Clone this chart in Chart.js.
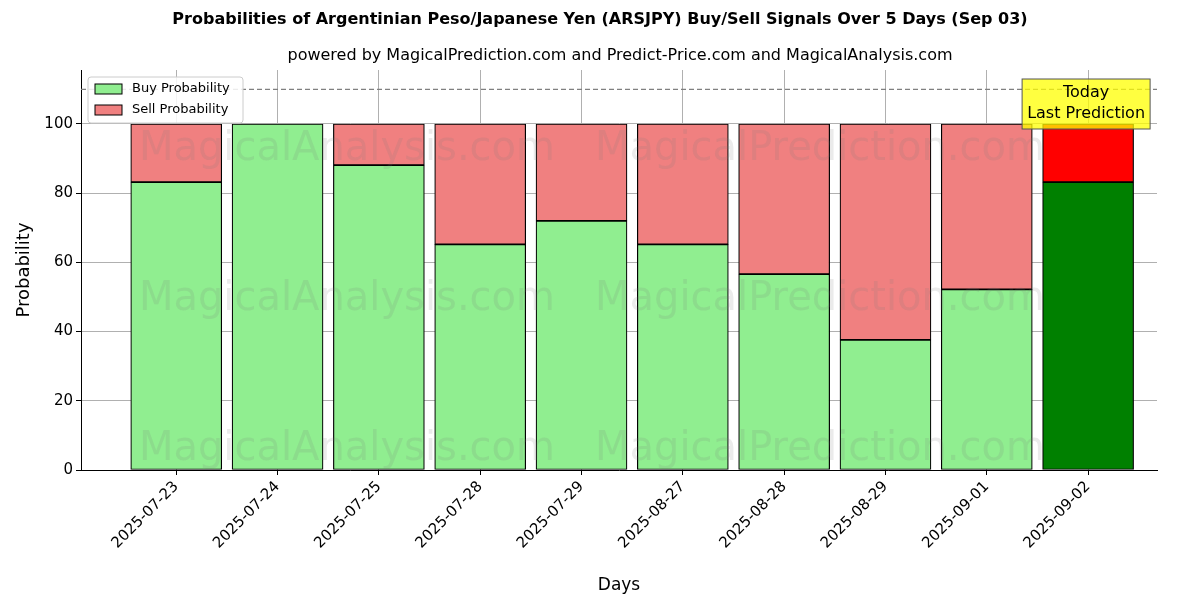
<!DOCTYPE html>
<html>
<head>
<meta charset="utf-8">
<script src="https://cdn.jsdelivr.net/npm/chart.js@4"></script>
<style>
  html, body { margin: 0; padding: 0; background: #fff; }
  #wrap { width: 1200px; height: 600px; }
</style>
</head>
<body>
<div id="wrap"><canvas id="chart" width="1200" height="600"></canvas></div>
<script>
// Data
const days = ['2025-07-23', '2025-07-24', '2025-07-25', '2025-07-28', '2025-07-29',
  '2025-08-27', '2025-08-28', '2025-08-29', '2025-09-01', '2025-09-02'];
const buyProb = [83.2, 100, 88.1, 65.2, 72.0, 65.2, 56.6, 37.6, 52.2, 83.2];
const sellProb = buyProb.map(b => +(100 - b).toFixed(1));
const yTicks = [0, 20, 40, 60, 80, 100];

const FONT = 'DejaVu Sans';
const last = days.length - 1;

const buyColors = days.map((d, i) => i === last ? '#008000' : '#90ee90');
const sellColors = days.map((d, i) => i === last ? '#ff0000' : '#f08080');

// Titles, watermarks, dashed line, legend, annotation
const decor = {
  id: 'decor',
  afterDatasetsDraw(chart) {
    const { ctx, chartArea: a, scales } = chart;
    ctx.save();
    // watermarks over the bars
    ctx.save();
    ctx.beginPath();
    ctx.rect(a.left, a.top, a.right - a.left, a.bottom - a.top);
    ctx.clip();
    ctx.font = '40px ' + FONT;
    ctx.fillStyle = 'rgba(120,120,120,0.15)';
    ctx.textAlign = 'center';
    ctx.textBaseline = 'middle';
    [150, 300, 450].forEach(y => {
      ctx.fillText('MagicalAnalysis.com', 347, y);
      ctx.fillText('MagicalPrediction.com', 820, y);
    });
    ctx.restore();

    // dashed line at 110
    const y110 = scales.y.getPixelForValue(110);
    ctx.strokeStyle = '#808080';
    ctx.lineWidth = 1.2;
    ctx.setLineDash([5, 3]);
    ctx.beginPath();
    ctx.moveTo(a.left, y110);
    ctx.lineTo(a.right, y110);
    ctx.stroke();
    ctx.setLineDash([]);

    // titles
    ctx.fillStyle = '#000';
    ctx.textAlign = 'center';
    ctx.textBaseline = 'middle';
    ctx.font = 'bold 16px ' + FONT;
    ctx.fillText('Probabilities of Argentinian Peso/Japanese Yen (ARSJPY) Buy/Sell Signals Over 5 Days (Sep 03)', 600, 20);
    ctx.font = '16px ' + FONT;
    ctx.fillText('powered by MagicalPrediction.com and Predict-Price.com and MagicalAnalysis.com', 620, 56);

    // legend
    ctx.fillStyle = 'rgba(255,255,255,0.85)';
    ctx.strokeStyle = '#ccc';
    ctx.lineWidth = 1;
    ctx.beginPath();
    ctx.roundRect(88, 77, 155, 46, 3);
    ctx.fill();
    ctx.stroke();
    ctx.font = '13px ' + FONT;
    ctx.textAlign = 'left';
    [['Buy Probability', '#90ee90', 89], ['Sell Probability', '#f08080', 110]].forEach(([t, c, y]) => {
      ctx.fillStyle = c;
      ctx.fillRect(95, y - 5, 27, 10);
      ctx.strokeStyle = '#000';
      ctx.strokeRect(95, y - 5, 27, 10);
      ctx.fillStyle = '#000';
      ctx.fillText(t, 132, y);
    });

    // today annotation
    const xc = scales.x.getPixelForValue(last);
    ctx.fillStyle = 'rgba(255,255,0,0.75)';
    ctx.strokeStyle = '#555';
    ctx.fillRect(xc - 66, 79, 128, 50);
    ctx.strokeRect(xc - 66, 79, 128, 50);
    ctx.fillStyle = '#000';
    ctx.textAlign = 'center';
    ctx.font = '16px ' + FONT;
    ctx.fillText('Today', xc - 2, 93);
    ctx.fillText('Last Prediction', xc - 2, 114);
    ctx.restore();
  }
};

new Chart(document.getElementById('chart'), {
  type: 'bar',
  data: {
    datasets: [
      {
        label: 'Buy Probability',
        data: buyProb.map((v, i) => ({ x: i, y: v })),
        backgroundColor: buyColors,
        borderColor: '#000',
        borderWidth: 1.2,
        borderSkipped: false,
        barThickness: 91,
        stack: 's'
      },
      {
        label: 'Sell Probability',
        data: sellProb.map((v, i) => ({ x: i, y: v })),
        backgroundColor: sellColors,
        borderColor: '#000',
        borderWidth: 1.2,
        borderSkipped: false,
        barThickness: 91,
        stack: 's'
      }
    ]
  },
  options: {
    responsive: false,
    animation: false,
    layout: { padding: { top: 70, right: 43, left: 10, bottom: 0 } },
    plugins: { legend: { display: false }, title: { display: false }, tooltip: { enabled: false } },
    scales: {
      x: {
        type: 'linear',
        stacked: true,
        offset: false,
        min: -0.94,
        max: 9.68,
        afterBuildTicks: s => { s.ticks = days.map((d, i) => ({ value: i })); },
        afterFit: s => { s.height = 130; },
        ticks: {
          color: '#000',
          font: { family: FONT, size: 15 },
          minRotation: 45,
          maxRotation: 45,
          callback: v => days[v]
        },
        grid: { color: '#b0b0b0', tickColor: '#000', tickLength: 5, offset: false },
        border: { color: '#000' },
        title: { display: true, text: 'Days', color: '#000', font: { family: FONT, size: 17 } }
      },
      y: {
        stacked: true,
        min: 0,
        max: 115.6,
        afterBuildTicks: s => { s.ticks = yTicks.map(v => ({ value: v })); },
        afterFit: s => { s.width = 71; },
        ticks: { color: '#000', font: { family: FONT, size: 15 } },
        grid: { color: '#b0b0b0', tickColor: '#000', tickLength: 5 },
        border: { color: '#000' },
        title: { display: true, text: 'Probability', color: '#000', font: { family: FONT, size: 18 } }
      }
    }
  },
  plugins: [decor]
});
</script>
</body>
</html>
